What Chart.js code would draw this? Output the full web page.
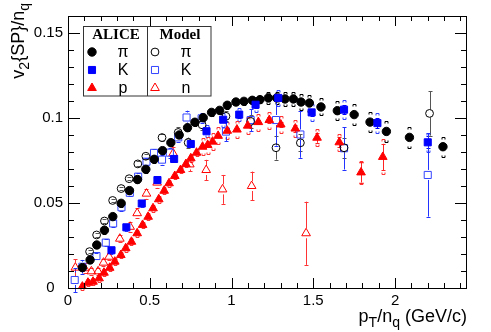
<!DOCTYPE html>
<html>
<head>
<meta charset="utf-8">
<script src="https://cdn.jsdelivr.net/npm/chart.js@4.4.1/dist/chart.umd.min.js"></script>
<style>
  html, body { margin: 0; padding: 0; background: #fff; }
  #wrap { width: 491px; height: 332px; }
</style>
</head>
<body>
<div id="wrap"><canvas id="v2Chart" width="491" height="332"></canvas></div>
<script>
// ALICE pions
const piX = [0.088,0.135,0.176,0.223,0.274,0.325,0.376,0.425,0.476,0.527,0.578,0.629,0.680,0.731,0.776,0.827,0.878,0.927,0.974,1.027,1.076,1.127,1.174,1.225,1.276,1.327,1.378,1.425,1.476,1.547,1.647,1.750,1.847,1.947,2.088,2.293];
const piY = [0.0120,0.0165,0.0253,0.0340,0.0420,0.0498,0.0573,0.0638,0.0698,0.0757,0.0808,0.0855,0.0900,0.0943,0.0975,0.1002,0.1033,0.1045,0.1075,0.1094,0.1098,0.1104,0.1108,0.1118,0.1118,0.1112,0.1112,0.1094,0.1088,0.1065,0.1043,0.1020,0.0976,0.0921,0.0886,0.0831];
const piSys = [0.002,0.002,0.002,0.002,0.002,0.002,0.002,0.002,0.002,0.002,0.002,0.002,0.002,0.002,0.002,0.002,0.002,0.002,0.002,0.002,0.002,0.002,0.002,0.0035,0.0035,0.004,0.004,0.0045,0.005,0.005,0.0055,0.006,0.006,0.006,0.006,0.006];

// ALICE kaons
const kX = [0.266,0.357,0.451,0.547,0.649,0.751,0.847,0.949,1.047,1.147,1.286,1.490,1.688,1.892,2.200];
const kY = [0.0222,0.0357,0.0497,0.0635,0.0759,0.0847,0.0922,0.0990,0.1020,0.1078,0.1118,0.1033,0.1049,0.0970,0.0857];
const kStat = [0,0,0,0,0,0,0.001,0.0015,0.002,0.002,0.002,0.002,0.0025,0.003,0.0035];
const kSys = [0.002,0.002,0.002,0.002,0.002,0.002,0.0035,0.004,0.004,0.0045,0.0045,0.005,0.0055,0.006,0.0055];

// ALICE protons
const pX = [0.088,0.122,0.153,0.190,0.220,0.255,0.286,0.323,0.353,0.388,0.423,0.456,0.490,0.520,0.555,0.588,0.618,0.653,0.688,0.721,0.751,0.786,0.823,0.854,0.884,0.918,0.974,1.033,1.099,1.164,1.231,1.301,1.390,1.523,1.659,1.792,1.925];
const pY = [0.0008,0.0031,0.0037,0.0057,0.0090,0.0119,0.0155,0.0194,0.0234,0.0272,0.0322,0.0371,0.0419,0.0469,0.0522,0.0572,0.0616,0.0659,0.0694,0.0729,0.0763,0.0796,0.0831,0.0841,0.0861,0.0895,0.0925,0.0932,0.0955,0.0976,0.0988,0.0962,0.0938,0.0884,0.0857,0.0680,0.0771];
const pStat = [0,0,0,0,0,0,0,0,0,0,0,0,0,0,0,0,0,0,0,0,0,0,0,0,0,0,0,0.001,0.001,0.001,0.0015,0.0015,0.002,0.003,0.003,0.006,0.0077];
const pSys = [0.002,0.002,0.002,0.002,0.002,0.002,0.002,0.002,0.002,0.002,0.002,0.002,0.002,0.002,0.002,0.002,0.002,0.002,0.002,0.002,0.002,0.002,0.005,0.005,0.005,0.005,0.005,0.005,0.005,0.005,0.005,0.005,0.005,0.005,0.005,0.007,0.0103];

// Model
const mPiX = [0.132,0.175,0.223,0.273,0.325,0.374,0.427,0.476,0.575,0.674,0.735,0.820,0.966,1.117,1.272,1.421,1.688,2.211];
const mPiY = [0.0214,0.0312,0.0394,0.0515,0.0585,0.0643,0.0730,0.0775,0.0885,0.0915,0.0855,0.0960,0.1010,0.0980,0.0825,0.0854,0.0825,0.1027];
const mPiErr = [0.001,0.001,0.001,0.001,0.001,0.001,0.0015,0.0015,0.002,0.003,0.003,0.003,0.003,0.004,0.007,0.005,0.006,0.013];

const mKX = [0.041,0.088,0.174,0.231,0.276,0.327,0.378,0.429,0.480,0.526,0.575,0.623,0.674,0.725,0.817,0.966,1.117,1.272,1.421,1.688,2.200];
const mKY = [0.0047,0.0125,0.0188,0.0267,0.0380,0.0475,0.0560,0.0655,0.0743,0.0795,0.0755,0.0796,0.0886,0.1003,0.0998,0.0920,0.0988,0.0988,0.0903,0.0822,0.0665];
const mKErr = [0.007,0.004,0.002,0.002,0.002,0.002,0.002,0.002,0.002,0.002,0.003,0.003,0.003,0.004,0.003,0.0055,0.0065,0.015,0.0137,0.0125,0.0245];

const mNX = [0.045,0.102,0.143,0.184,0.217,0.251,0.317,0.380,0.423,0.480,0.545,0.643,0.745,0.845,0.945,1.123,1.456];
const mNY = [0.0120,0.0116,0.0098,0.0098,0.0149,0.0184,0.0290,0.0360,0.0440,0.0555,0.0620,0.0792,0.0727,0.0694,0.0580,0.0600,0.0322];
const mNErr = [0.005,0.003,0.002,0.002,0.002,0.002,0.002,0.003,0.003,0.003,0.003,0.004,0.004,0.006,0.0085,0.0085,0.0186];

const xTicks = [0, 0.5, 1, 1.5, 2];
const yTicks = [0, 0.05, 0.1, 0.15];

function pts(xs, ys) {
    return xs.map((x, i) => ({x: x, y: ys[i]}));
}

const SANS = "'Liberation Sans', Arial, sans-serif";
const SERIF = "'Liberation Serif', 'Times New Roman', serif";

// error bars and systematic brackets, drawn under the markers
const errorBars = {
    id: 'errorBars',
    beforeDatasetsDraw(chart) {
        const ctx = chart.ctx;
        const xs = chart.scales.x, ys = chart.scales.y;
        ctx.save();
        ctx.lineWidth = 1;
        chart.data.datasets.forEach(ds => {
            ds.data.forEach((p, i) => {
                const px = Math.round(xs.getPixelForValue(p.x)) + 0.5;
                const py = ys.getPixelForValue(p.y);
                const st = ds.stat ? ds.stat[i] : 0;
                if (st > 0) {
                    const t = ys.getPixelForValue(p.y + st);
                    const b = ys.getPixelForValue(p.y - st);
                    const gap = ds.open ? ds.pointRadius : 0;
                    ctx.strokeStyle = ds.barColor;
                    ctx.beginPath();
                    if (t < py - gap) { ctx.moveTo(px, t); ctx.lineTo(px, py - gap); }
                    if (b > py + gap) { ctx.moveTo(px, py + gap); ctx.lineTo(px, b); }
                    ctx.moveTo(px - 2, Math.round(t) + 0.5); ctx.lineTo(px + 2, Math.round(t) + 0.5);
                    ctx.moveTo(px - 2, Math.round(b) + 0.5); ctx.lineTo(px + 2, Math.round(b) + 0.5);
                    ctx.stroke();
                }
                const sy = ds.sys ? ds.sys[i] : 0;
                if (sy > 0) {
                    const t = Math.round(ys.getPixelForValue(p.y + sy)) + 0.5;
                    const b = Math.round(ys.getPixelForValue(p.y - sy)) + 0.5;
                    ctx.strokeStyle = ds.sysColor;
                    ctx.beginPath();
                    ctx.moveTo(px - 1.5, t + 2); ctx.lineTo(px - 1.5, t); ctx.lineTo(px + 1.5, t); ctx.lineTo(px + 1.5, t + 2);
                    ctx.moveTo(px - 1.5, b - 2); ctx.lineTo(px - 1.5, b); ctx.lineTo(px + 1.5, b); ctx.lineTo(px + 1.5, b - 2);
                    ctx.stroke();
                }
            });
        });
        ctx.restore();
    }
};

// ROOT-style frame with inward ticks on all four sides
const frameTicks = {
    id: 'frameTicks',
    afterDraw(chart) {
        const ctx = chart.ctx;
        const a = chart.chartArea;
        const xs = chart.scales.x, ys = chart.scales.y;
        ctx.save();
        ctx.strokeStyle = '#000';
        ctx.lineWidth = 1;
        ctx.beginPath();
        for (let i = 0; i <= 24; i++) {
            const px = Math.round(xs.getPixelForValue(i / 10)) + 0.5;
            const len = i % 5 === 0 ? 10 : 5;
            ctx.moveTo(px, a.bottom); ctx.lineTo(px, a.bottom - len);
            ctx.moveTo(px, a.top); ctx.lineTo(px, a.top + len);
        }
        for (let i = 0; i <= 16; i++) {
            const py = Math.round(ys.getPixelForValue(i / 100)) + 0.5;
            const len = i % 5 === 0 ? 12 : 6;
            ctx.moveTo(a.left, py); ctx.lineTo(a.left + len, py);
            ctx.moveTo(a.right, py); ctx.lineTo(a.right - len, py);
        }
        ctx.stroke();
        ctx.strokeRect(Math.round(a.left) + 0.5, Math.round(a.top) + 0.5,
            Math.round(a.right - a.left) - 1, Math.round(a.bottom - a.top));
        ctx.restore();
    }
};

// text with subscripts, parts = [[text, isSub], ...]
function richWidth(ctx, parts, size) {
    let w = 0;
    parts.forEach(([t, sub]) => {
        ctx.font = (sub ? size * 0.78 : size) + 'px ' + SANS;
        w += ctx.measureText(t).width;
    });
    return w;
}
function drawRich(ctx, parts, x, y, size) {
    parts.forEach(([t, sub]) => {
        ctx.font = (sub ? size * 0.78 : size) + 'px ' + SANS;
        ctx.fillText(t, x, sub ? y + size * 0.3 : y);
        x += ctx.measureText(t).width;
    });
}

const axisTitles = {
    id: 'axisTitles',
    afterDraw(chart) {
        const ctx = chart.ctx;
        const a = chart.chartArea;
        ctx.save();
        ctx.fillStyle = '#000';
        ctx.textBaseline = 'alphabetic';
        ctx.textAlign = 'left';
        const xt = [['p', false], ['T', true], ['/n', false], ['q', true], [' (GeV/c)', false]];
        const xw = richWidth(ctx, xt, 18);
        drawRich(ctx, xt, a.right - xw, 322, 18);
        const yt = [['v', false], ['2', true], ['{SP}/n', false], ['q', true]];
        const yw = richWidth(ctx, yt, 18);
        ctx.translate(24, 3 + yw);
        ctx.rotate(-Math.PI / 2);
        drawRich(ctx, yt, 0, 0, 18);
        ctx.restore();
    }
};

// two-column legend box: ALICE | Model
const legendBox = {
    id: 'legendBox',
    afterDraw(chart) {
        const ctx = chart.ctx;
        const ds = chart.data.datasets;
        ctx.save();
        ctx.fillStyle = '#fff';
        ctx.fillRect(84, 26, 127, 70);
        ctx.strokeStyle = '#333';
        ctx.lineWidth = 1;
        ctx.strokeRect(83.5, 26.5, 127.5, 69.5);
        ctx.beginPath();
        ctx.moveTo(147.5, 26.5); ctx.lineTo(147.5, 96);
        ctx.stroke();
        ctx.fillStyle = '#000';
        ctx.textAlign = 'center';
        ctx.textBaseline = 'alphabetic';
        ctx.font = 'bold 15px ' + SERIF;
        ctx.fillText('ALICE', 116, 39);
        ctx.fillText('Model', 180, 39);
        const rows = [52, 70, 88];
        const names = [['\u03c0', 'K', 'p'], ['\u03c0', 'K', 'n']];
        const cols = [[92, 123], [155, 186]];
        const order = [[2, 0, 1], [3, 4, 5]];
        for (let c = 0; c < 2; c++) {
            for (let r = 0; r < 3; r++) {
                const d = ds[order[c][r]];
                ctx.fillStyle = d.backgroundColor;
                ctx.strokeStyle = d.borderColor;
                ctx.lineWidth = d.borderWidth;
                Chart.helpers.drawPoint(ctx, {pointStyle: d.pointStyle, radius: d.pointRadius, rotation: 0, borderWidth: d.borderWidth}, cols[c][0], rows[r]);
                ctx.fillStyle = '#000';
                ctx.font = '16px ' + SANS;
                ctx.fillText(names[c][r], cols[c][1], rows[r] + 5);
            }
        }
        ctx.restore();
    }
};

const ctx = document.getElementById('v2Chart').getContext('2d');
new Chart(ctx, {
    type: 'scatter',
    data: {
        datasets: [
            {label: 'ALICE K', data: pts(kX, kY), stat: kStat, sys: kSys, barColor: '#0000ff', sysColor: '#3344ff',
             pointStyle: 'rect', pointRadius: 5, backgroundColor: '#0000ff', borderColor: '#0000ff', borderWidth: 1},
            {label: 'ALICE p', data: pts(pX, pY), stat: pStat, sys: pSys, barColor: '#ff2222', sysColor: '#ff3333',
             pointStyle: 'triangle', pointRadius: 5, backgroundColor: '#ff0000', borderColor: '#ff0000', borderWidth: 1},
            {label: 'ALICE pi', data: pts(piX, piY), sys: piSys, barColor: '#000', sysColor: '#000',
             pointStyle: 'circle', pointRadius: 4.2, backgroundColor: '#000', borderColor: '#000', borderWidth: 1},
            {label: 'Model pi', data: pts(mPiX, mPiY), stat: mPiErr, barColor: '#555', open: true,
             pointStyle: 'circle', pointRadius: 3.9, backgroundColor: 'rgba(0,0,0,0)', borderColor: '#000', borderWidth: 1},
            {label: 'Model K', data: pts(mKX, mKY), stat: mKErr, barColor: '#2233ff', open: true,
             pointStyle: 'rect', pointRadius: 5, backgroundColor: 'rgba(0,0,0,0)', borderColor: '#3344ff', borderWidth: 1},
            {label: 'Model n', data: pts(mNX, mNY), stat: mNErr, barColor: '#ff3333', open: true,
             pointStyle: 'triangle', pointRadius: 5, backgroundColor: 'rgba(0,0,0,0)', borderColor: '#ff0000', borderWidth: 1}
        ]
    },
    options: {
        responsive: false,
        animation: false,
        devicePixelRatio: 1,
        layout: {padding: {top: 16, right: 24, left: 0, bottom: 0}},
        plugins: {legend: {display: false}, tooltip: {enabled: false}},
        elements: {point: {hoverRadius: 0}},
        scales: {
            x: {
                type: 'linear', min: 0, max: 2.44,
                grid: {display: false, drawTicks: false},
                border: {display: false},
                afterBuildTicks: s => { s.ticks = xTicks.map(v => ({value: v})); },
                afterFit: s => { s.height = 44; },
                ticks: {color: '#000', font: {family: SANS, size: 15}, padding: 4, maxRotation: 0,
                        callback: v => String(Math.round(v * 10) / 10)}
            },
            y: {
                type: 'linear', min: 0, max: 0.16,
                grid: {display: false, drawTicks: false},
                border: {display: false},
                afterBuildTicks: s => { s.ticks = yTicks.map(v => ({value: v})); },
                afterFit: s => { s.width = 68; },
                ticks: {color: '#000', font: {family: SANS, size: 15}, padding: 5,
                        callback: v => v === 0 ? '0  ' : String(Math.round(v * 100) / 100)}
            }
        }
    },
    plugins: [errorBars, frameTicks, axisTitles, legendBox]
});
</script>
</body>
</html>
